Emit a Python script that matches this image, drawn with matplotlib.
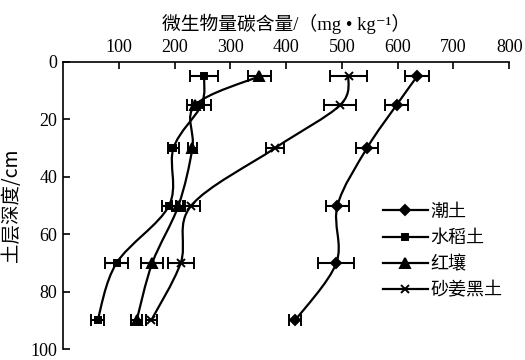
import numpy as np
import matplotlib
matplotlib.use("Agg")
import matplotlib.pyplot as plt
from matplotlib.path import Path
from matplotlib.patches import PathPatch
from matplotlib.lines import Line2D

depths = [5, 15, 30, 50, 70, 90]
series_names = ["潮土", "水稻土", "红壤", "砂姜黑土"]
chao = [635, 598, 545, 492, 490, 416]
chao_err = [22, 20, 20, 20, 32, 10]
shuidao = [253, 248, 198, 190, 96, 62]
shuidao_err = [25, 17, 10, 12, 20, 12]
hongrang = [352, 237, 232, 207, 160, 132]
hongrang_err = [21, 15, 8, 12, 20, 10]
shajiang = [512, 497, 380, 230, 211, 158]
shajiang_err = [33, 29, 16, 15, 23, 10]
x_ticks = [100, 200, 300, 400, 500, 600, 700, 800]
y_ticks = [0, 20, 40, 60, 80, 100]

serif = ['Liberation Serif', 'Noto Sans CJK SC', 'DejaVu Sans']
cjk = ['Noto Sans CJK SC', 'DejaVu Sans']

fig = plt.figure(figsize=(5.25, 3.6), dpi=100)
ax = fig.add_axes([0.12, 0.03, 0.85, 0.798])


def smooth_path(xs, ys, t=0.5):
    xs = np.asarray(xs, float); ys = np.asarray(ys, float)
    n = len(xs)
    verts = [(xs[0], ys[0])]
    codes = [Path.MOVETO]
    for i in range(n - 1):
        p0 = np.array([xs[max(i - 1, 0)], ys[max(i - 1, 0)]])
        p1 = np.array([xs[i], ys[i]])
        p2 = np.array([xs[i + 1], ys[i + 1]])
        p3 = np.array([xs[min(i + 2, n - 1)], ys[min(i + 2, n - 1)]])
        c1 = p1 + (p2 - p0) * t / 3
        c2 = p2 - (p3 - p1) * t / 3
        verts += [tuple(c1), tuple(c2), tuple(p2)]
        codes += [Path.CURVE4] * 3
    return Path(verts, codes)


data = [(chao, chao_err, 'D', 5), (shuidao, shuidao_err, 's', 5),
        (hongrang, hongrang_err, '^', 6.5), (shajiang, shajiang_err, 'x', 5.5)]
handles = []
for (vals, err, mk, ms), name in zip(data, series_names):
    ax.add_patch(PathPatch(smooth_path(vals, depths), fill=False, lw=1.6,
                           edgecolor='black', transform=ax.transData))
    ax.errorbar(vals, depths, xerr=err, fmt=mk, color='black', ms=ms,
                mew=1.4, elinewidth=1.5, capsize=4.5, capthick=1.5, ls='none')
    handles.append(Line2D([], [], color='black', lw=1.6, marker=mk, ms=ms, mew=1.4))

ax.set_xlim(0, 800)
ax.set_ylim(100, 0)
ax.xaxis.tick_top()
ax.xaxis.set_label_position('top')
ax.set_xticks(x_ticks)
ax.set_yticks(y_ticks)
ax.tick_params(direction='in', length=5, width=1.2, labelsize=13, pad=4)
for lab in ax.get_xticklabels() + ax.get_yticklabels():
    lab.set_family(serif)
for s in ['right', 'bottom']:
    ax.spines[s].set_visible(False)
for s in ['left', 'top']:
    ax.spines[s].set_linewidth(1.2)

ax.set_xlabel('微生物量碳含量/（mg • kg⁻¹）', family=serif, fontsize=13.5, labelpad=7)
ax.set_ylabel('土层深度/cm', family=cjk, fontsize=14, labelpad=6)

leg = ax.legend(handles, series_names, loc='upper left', bbox_to_anchor=(0.70, 0.535),
                frameon=False, prop={'family': cjk, 'size': 13}, handlelength=2.5,
                handletextpad=0.15, labelspacing=0.45, borderaxespad=0)

fig.savefig('out.png', dpi=100)
